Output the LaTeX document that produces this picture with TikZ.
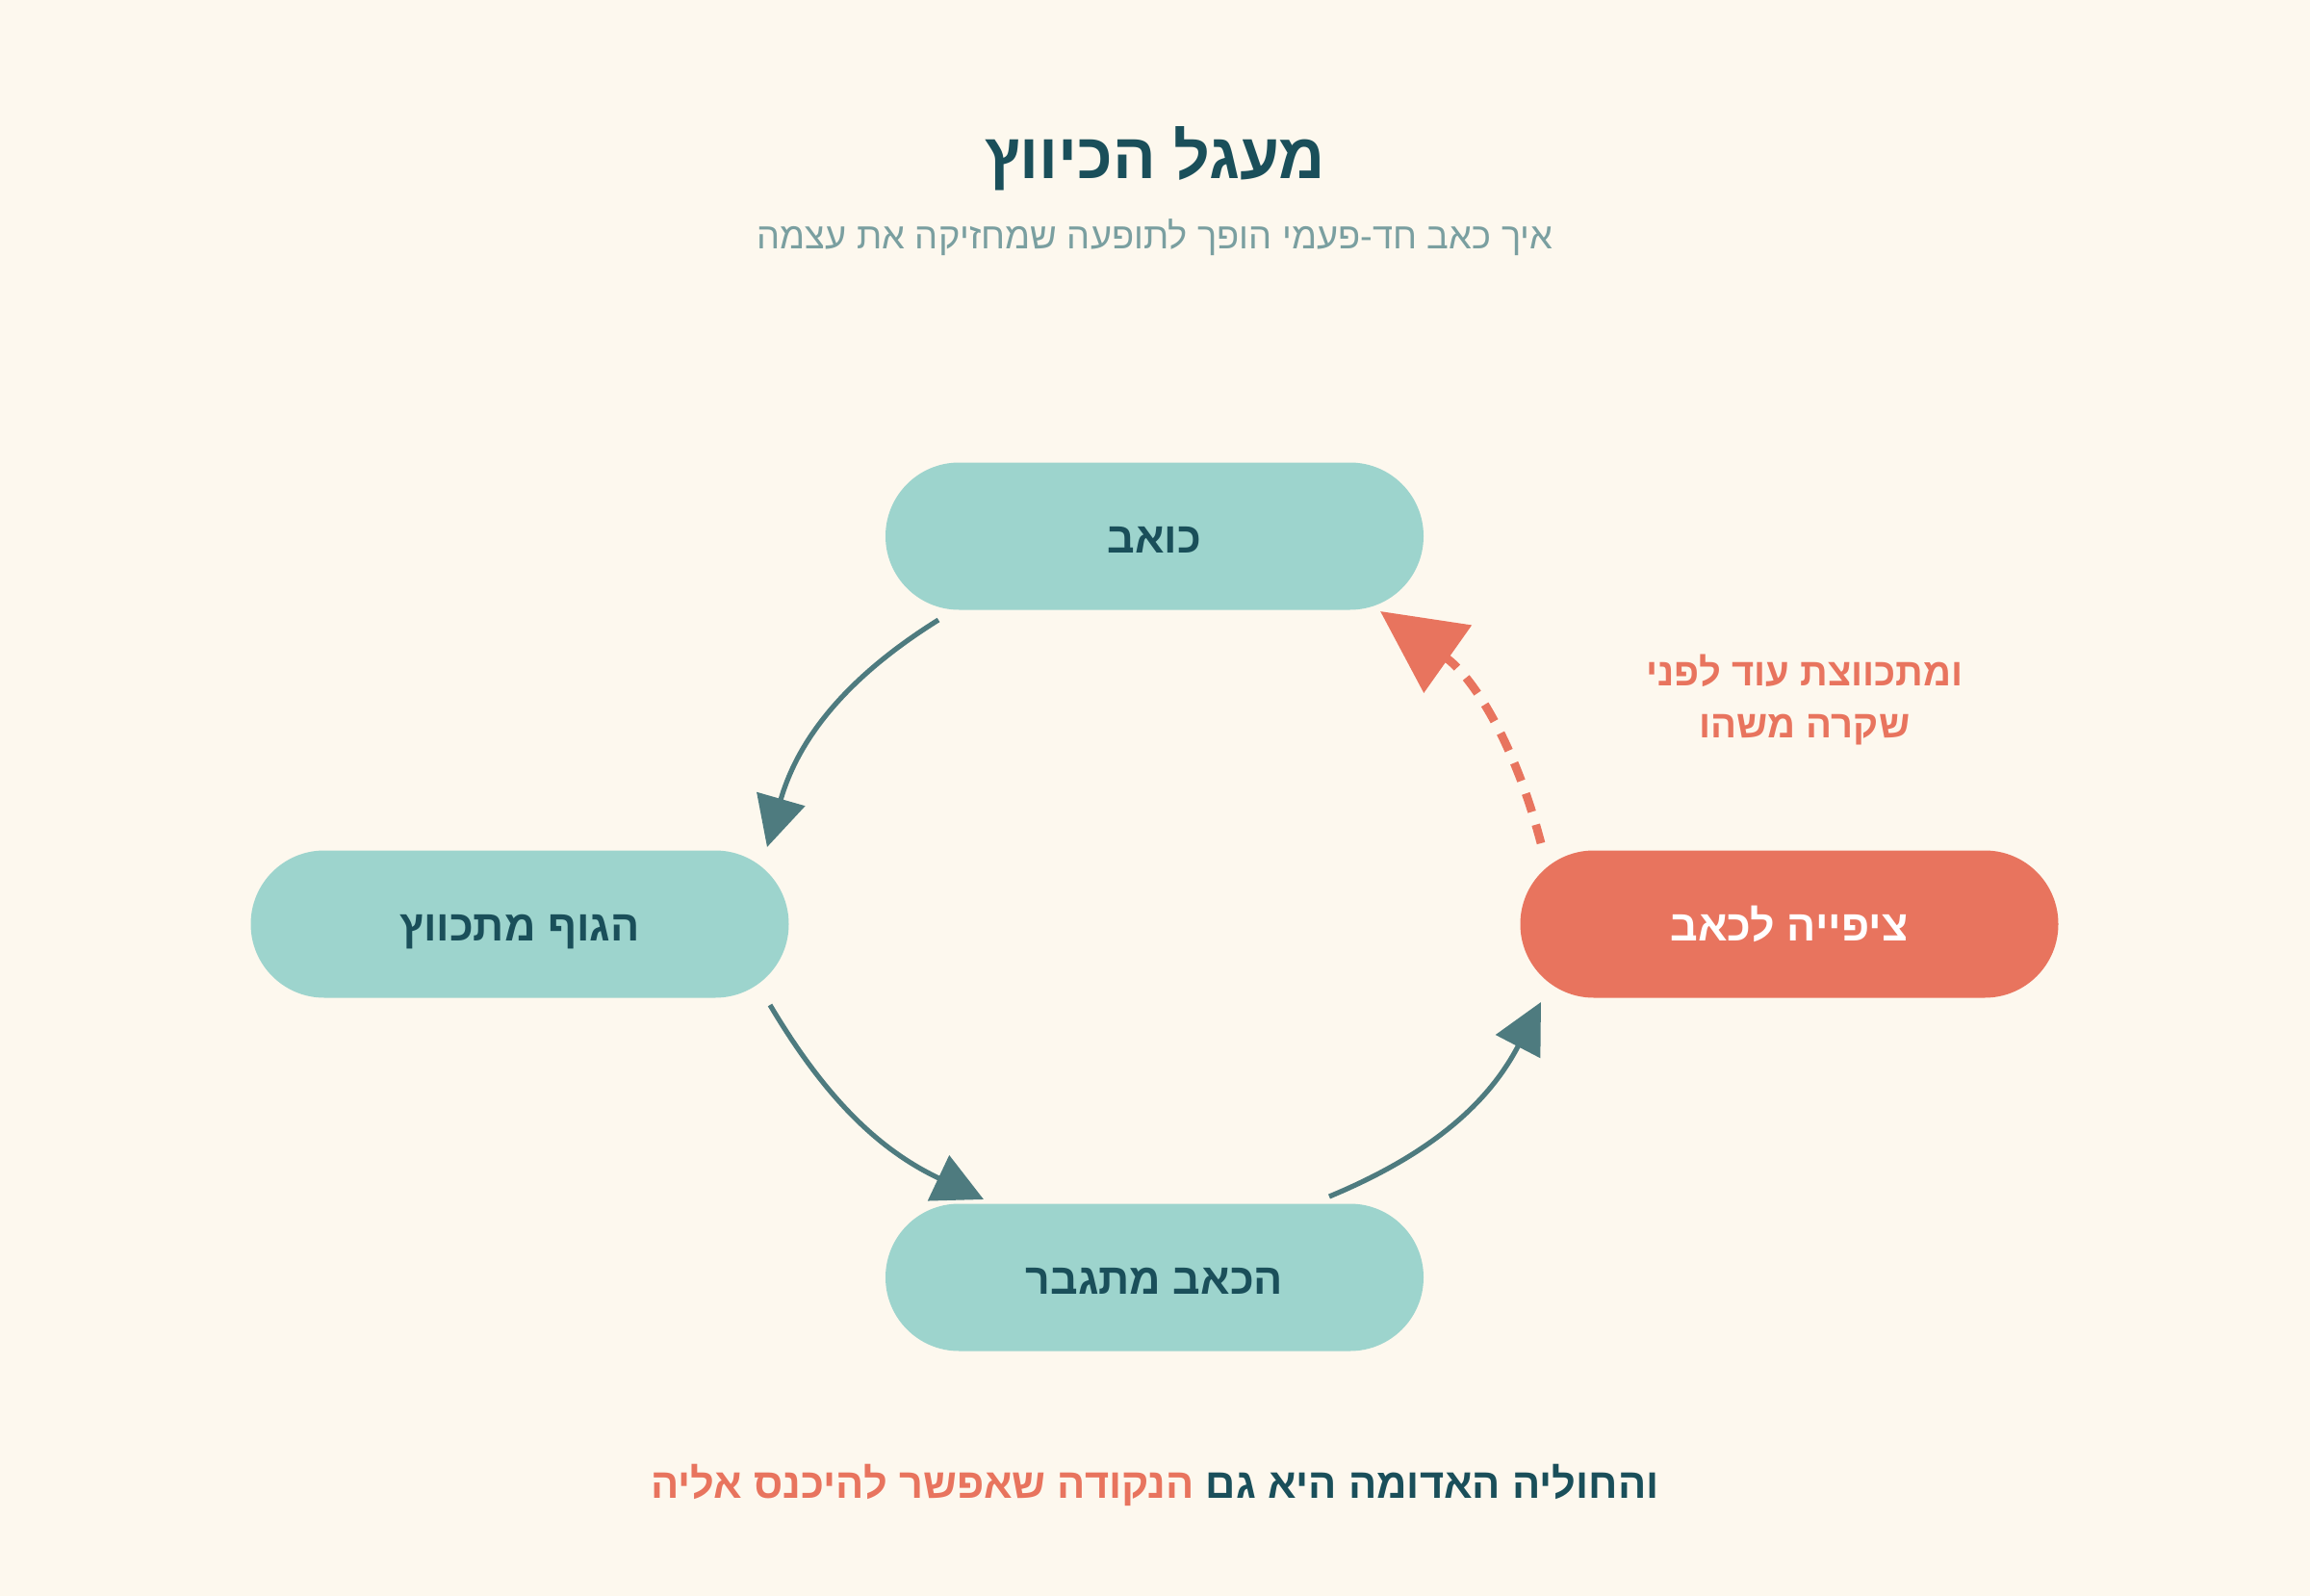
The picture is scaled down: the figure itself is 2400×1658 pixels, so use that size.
\documentclass[tikz,border=0pt]{standalone}
\usepackage{fontspec}
\setmainfont{Liberation Sans}
\newfontfamily\heb[Script=Hebrew]{Liberation Sans}
\TeXXeTstate=1
\usetikzlibrary{arrows.meta}
\definecolor{bg}{HTML}{FDF8EE}
\definecolor{dark}{HTML}{1A4F5A}
\definecolor{subc}{HTML}{7A9FA0}
\definecolor{mint}{HTML}{9DD4CD}
\definecolor{coral}{HTML}{E8745E}
\definecolor{tealline}{HTML}{4E7B7F}
\begin{document}
\begin{tikzpicture}[x=0.25pt,y=0.25pt,
  pill/.style={rounded corners=19.1pt, minimum width=139.75pt, minimum height=38.25pt, inner sep=0pt,
    text height=0.88em, text depth=0pt,
    fill=mint, text=dark, font=\heb\bfseries\fontsize{11.2}{13}\selectfont},
  flow/.style={draw=tealline, line width=1.3pt, -{Triangle[length=13pt,width=12.8pt]}},
  back/.style={draw=coral, line width=2.2pt, dash pattern=on 5pt off 3.5pt,
    -{Triangle[length=21.5pt,width=21pt]}}]
\useasboundingbox[fill=bg] (0,0) rectangle (2400,-1658);
\node[text=dark, font=\heb\bfseries\fontsize{16.6}{19}\selectfont] (title) at (1200,-165) {\beginR מעגל הכיווץ\endR};
\node[text=subc, font=\heb\fontsize{9.5}{12}\selectfont] (subtitle) at (1200,-247) {\beginR איך כאב חד-פעמי הופך לתופעה שמחזיקה את עצמה\endR};
\node[pill] (top) at (1199.5,-557) {\beginR כואב\endR};
\node[pill] (left) at (540,-960) {\beginR הגוף מתכווץ\endR};
\node[pill, fill=coral, text=white] (right) at (1859,-960) {\beginR ציפייה לכאב\endR};
\node[pill] (bottom) at (1199.5,-1327) {\beginR הכאב מתגבר\endR};
\coordinate (a1s) at (975,-644);
\coordinate (a1e) at (797,-880);
\coordinate (a2s) at (800,-1044);
\coordinate (a2e) at (1022,-1246);
\coordinate (a3s) at (1381,-1243);
\coordinate (a3e) at (1601,-1041);
\coordinate (a4s) at (1601,-876);
\coordinate (a4e) at (1434,-635);
\draw[flow] (a1s) to[bend right=21] (a1e);
\draw[flow] (a2s) to[bend right=17] (a2e);
\draw[flow] (a3s) to[bend right=20] (a3e);
\draw[back] (a4s) to[bend right=20] (a4e);
\node[text=coral, align=center, font=\heb\bfseries\fontsize{10}{13.5}\selectfont] (note) at (1875,-727) {\beginR ומתכווצת עוד לפני\endR\\\beginR שקרה משהו\endR};
\node[text=dark, font=\heb\bfseries\fontsize{10.85}{13}\selectfont] (footer) at (1200,-1543) {{\color{coral}\beginR הנקודה שאפשר להיכנס אליה\endR} \beginR והחוליה האדומה היא גם\endR};
\end{tikzpicture}
\end{document}
